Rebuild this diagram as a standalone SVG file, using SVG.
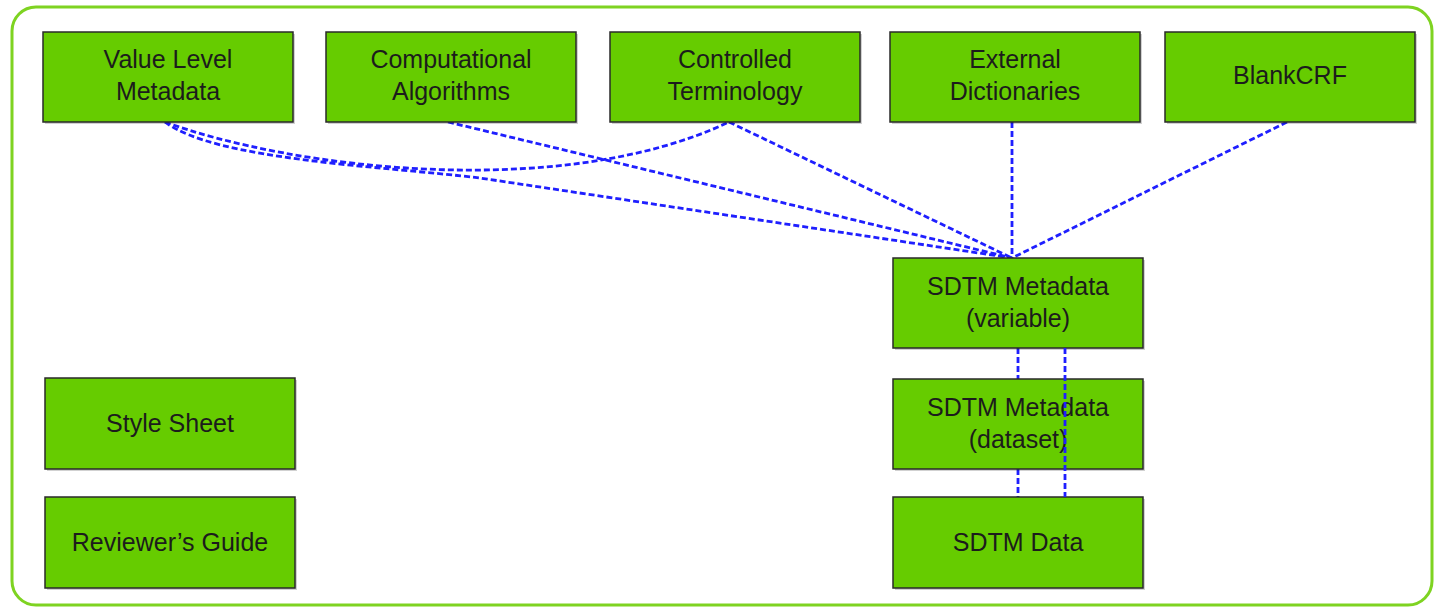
<svg xmlns="http://www.w3.org/2000/svg" width="1434" height="608" viewBox="0 0 1434 608">
<style>
.frame{fill:#ffffff;stroke:#7ed321;stroke-width:3}
.box{fill:#66cc00;stroke:#2a2a2a;stroke-width:1.5}
.shadow{fill:#000000;opacity:0.18}
.lbl{font-family:"Liberation Sans",Arial,sans-serif;font-size:25px;fill:#1c1c1c;text-anchor:middle}
.con{fill:none;stroke:#1f1fff;stroke-width:2.8;stroke-dasharray:6 3}
</style>
<rect x="0" y="0" width="1434" height="608" fill="#ffffff"/>
<rect class="frame" x="12" y="7" width="1420" height="598" rx="24" ry="24"/>
<g id="connectors">
<path class="con" d="M165,122 C290,168 560,202 729,122"/>
<path class="con" d="M165,122 C215,160 380,166 480,178 L1012,258"/>
<path class="con" d="M448,122 L1012,258"/>
<path class="con" d="M729,122 L1012,258"/>
<path class="con" d="M1012,122 L1012,258"/>
<path class="con" d="M1287,122 L1012,258"/>
<path class="con" d="M1018,348 L1018,379"/>
<path class="con" d="M1018,469 L1018,497"/>
</g>
<g id="value-level-metadata"><rect class="shadow" x="45" y="34" width="250" height="90"/><rect class="box" x="43" y="32" width="250" height="90"/><text class="lbl" x="168" y="68">Value Level</text><text class="lbl" x="168" y="100">Metadata</text></g>
<g id="computational-algorithms"><rect class="shadow" x="328" y="34" width="250" height="90"/><rect class="box" x="326" y="32" width="250" height="90"/><text class="lbl" x="451" y="68">Computational</text><text class="lbl" x="451" y="100">Algorithms</text></g>
<g id="controlled-terminology"><rect class="shadow" x="612" y="34" width="250" height="90"/><rect class="box" x="610" y="32" width="250" height="90"/><text class="lbl" x="735" y="68">Controlled</text><text class="lbl" x="735" y="100">Terminology</text></g>
<g id="external-dictionaries"><rect class="shadow" x="892" y="34" width="250" height="90"/><rect class="box" x="890" y="32" width="250" height="90"/><text class="lbl" x="1015" y="68">External</text><text class="lbl" x="1015" y="100">Dictionaries</text></g>
<g id="blankcrf"><rect class="shadow" x="1167" y="34" width="250" height="90"/><rect class="box" x="1165" y="32" width="250" height="90"/><text class="lbl" x="1290" y="84">BlankCRF</text></g>
<g id="sdtm-metadata-variable"><rect class="shadow" x="895" y="260" width="250" height="90"/><rect class="box" x="893" y="258" width="250" height="90"/><text class="lbl" x="1018" y="295">SDTM Metadata</text><text class="lbl" x="1018" y="327">(variable)</text></g>
<g id="sdtm-metadata-dataset"><rect class="shadow" x="895" y="381" width="250" height="90"/><rect class="box" x="893" y="379" width="250" height="90"/><text class="lbl" x="1018" y="416">SDTM Metadata</text><text class="lbl" x="1018" y="448">(dataset)</text></g>
<g id="sdtm-data"><rect class="shadow" x="895" y="499" width="250" height="91"/><rect class="box" x="893" y="497" width="250" height="91"/><text class="lbl" x="1018" y="551">SDTM Data</text></g>
<g id="style-sheet"><rect class="shadow" x="47" y="380" width="250" height="91"/><rect class="box" x="45" y="378" width="250" height="91"/><text class="lbl" x="170" y="432">Style Sheet</text></g>
<g id="reviewers-guide"><rect class="shadow" x="47" y="499" width="250" height="91"/><rect class="box" x="45" y="497" width="250" height="91"/><text class="lbl" x="170" y="551">Reviewer’s Guide</text></g>
<g id="connector-overlay"><path class="con" d="M1065,348 L1065,497"/></g>
</svg>
